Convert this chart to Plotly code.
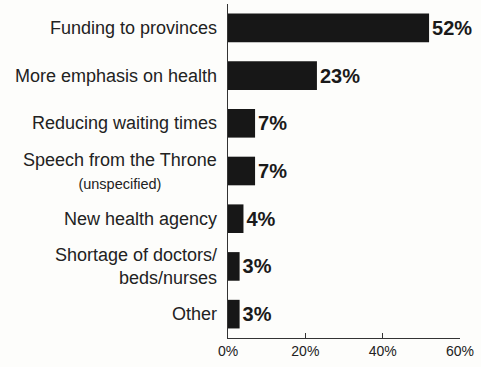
import plotly.graph_objects as go

# Responses, listed top to bottom
categories = [
    "Funding to provinces",
    "More emphasis on health",
    "Reducing waiting times",
    "Speech from the Throne",
    "New health agency",
    "Shortage of doctors/beds/nurses",
    "Other",
]
label_text = [
    "Funding to provinces",
    "More emphasis on health",
    "Reducing waiting times",
    "Speech from the Throne<br><span style='font-size:14.5px'>(unspecified)</span>",
    "New health agency",
    "Shortage of doctors/<br>beds/nurses",
    "Other",
]
label_align = ["right", "right", "right", "center", "right", "right", "right"]
values = [52, 23, 7, 7, 4, 3, 3]
tick_values = [0, 20, 40, 60]
tick_labels = ["0%", "20%", "40%", "60%"]

fig = go.Figure(
    go.Bar(
        x=values,
        y=categories,
        orientation="h",
        marker=dict(color="#171717", line=dict(width=0)),
        texttemplate="<b>%{x}%</b>",
        textposition="outside",
        textfont=dict(family="Liberation Sans, Arial, sans-serif", size=20, color="#1a1a1a"),
        constraintext="none",
        cliponaxis=False,
    )
)

# Category labels drawn as annotations so two-line labels can be centred
for cat, txt, al in zip(categories, label_text, label_align):
    fig.add_annotation(
        x=0, y=cat, xref="x", yref="y",
        text=txt, showarrow=False,
        xanchor="right", xshift=-9, align=al,
        font=dict(family="Liberation Sans, Arial, sans-serif", size=18, color="#222222"),
    )

fig.update_layout(
    width=481, height=367,
    margin=dict(l=228, r=21, t=4, b=29),
    paper_bgcolor="#fdfdfb",
    plot_bgcolor="#fdfdfb",
    bargap=0.4,
    showlegend=False,
)
fig.update_xaxes(
    range=[0, 60],
    tickvals=tick_values,
    ticktext=tick_labels,
    ticks="inside", ticklen=5, tickcolor="#333333", tickwidth=1,
    showline=True, linecolor="#333333", linewidth=1,
    showgrid=False, zeroline=False,
    tickfont=dict(family="Liberation Sans, Arial, sans-serif", size=14, color="#222222"),
)
fig.update_yaxes(
    categoryorder="array", categoryarray=categories[::-1],
    showticklabels=False, ticks="",
    showline=True, linecolor="#333333", linewidth=1,
    showgrid=False, zeroline=False,
)

fig.write_html("out.html")
